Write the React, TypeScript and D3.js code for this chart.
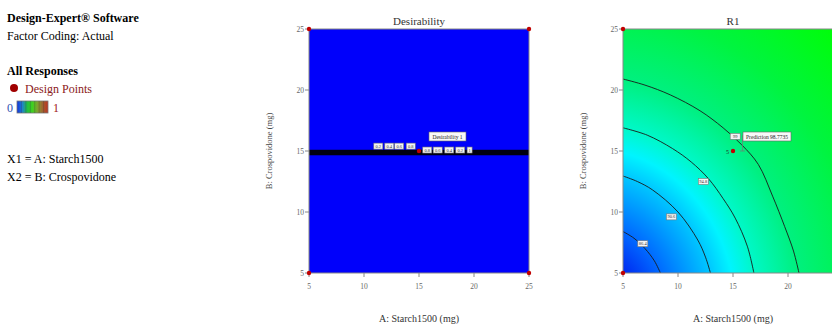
import React from "react";
import * as d3 from "d3";

// ---- data ----
const axisTicks = [5, 10, 15, 20, 25];
const designPoints: [number, number][] = [[5, 5], [5, 25], [25, 5], [25, 25], [15, 15]];
const centerReplicates = "5";

// Desirability panel
const desirBand = [14.65, 15.1]; // B range of the dense contour band
const desirLabelsLeft = ["0.2", "0.4", "0.6", "0.8"];
const desirLabelsLeftA = [11.3, 12.3, 13.2, 14.25];
const desirLabelsLeftB = 15.4;
const desirLabelsRight = ["0.8", "0.6", "0.4", "0.2", "1"];
const desirLabelsRightA = [15.75, 16.7, 17.75, 18.75, 19.6];
const desirLabelsRightB = 15.08;
const desirLabel = "Desirability 1";

// R1 panel contours (A, B points)
const contourLevels = ["86.4", "90.6", "94.8", "99"];
const contour1: [number, number][] = [[5, 8.4], [6, 7.85], [7, 7], [7.85, 6], [8.4, 5]];
const contour2: [number, number][] = [[5, 12.95], [6.3, 12.5], [7.7, 11.8], [10, 10], [11.8, 7.7], [12.5, 6.3], [12.95, 5]];
const contour3: [number, number][] = [[5, 16.9], [7.2, 16.3], [9.5, 15.2], [11.2, 14.1], [12.75, 12.75], [14.1, 11.1], [15.2, 9.5], [16.3, 7.2], [16.9, 5]];
const contour4: [number, number][] = [[5, 20.9], [7, 20.4], [9.3, 19.6], [12, 18.3], [14.1, 16.9], [15.8, 15.5], [17.3, 13.9], [18.6, 11.3], [19.7, 8.8], [20.5, 6.8], [21, 5]];
const contours = [contour1, contour2, contour3, contour4];
const contourLabelPos: [number, number][] = [[6.8, 7.4], [9.4, 9.6], [12.3, 12.5], [15.2, 16.2]];
const predictionText = "Prediction 98.7735";

// R1 colour gradient (distance from the low corner -> colour)
const gradRadii = [0, 4.2, 7, 11.4, 13.2, 15.2, 19, 25, 33];
const gradColors = ["#0010f0", "#0028f0", "#0068ff", "#00c8ff", "#00f4ff", "#00f8c8", "#00f080", "#00f440", "#00ff00"];
const gradCenter: [number, number] = [2, 2];

const legendBarColors = ["#1030e0", "#2080d0", "#20c040", "#40d020", "#80a030", "#a06030", "#c03020"];

export default function App() {
  const xL = d3.scaleLinear().domain([5, 25]).range([309, 529]);
  const xR = d3.scaleLinear().domain([5, 25]).range([623, 843]);
  const y = d3.scaleLinear().domain([5, 25]).range([273, 29]);
  const serif = "'Liberation Serif', 'Times New Roman', serif";
  const axisColor = "#888";
  const tickTextColor = "#666";

  const lineR = d3
    .line<[number, number]>()
    .x((d) => xR(d[0]))
    .y((d) => y(d[1]))
    .curve(d3.curveCatmullRom);

  const pxPerUnitX = xR(6) - xR(5);
  const pxPerUnitY = y(5) - y(6);
  const gcx = xR(gradCenter[0]);
  const gcy = y(gradCenter[1]);
  const rMax = gradRadii[gradRadii.length - 1];

  const axes = (x: d3.ScaleLinear<number, number>, xTickVals: number[]) => (
    <g>
      {axisTicks.map((t) => (
        <g key={"y" + t}>
          <line x1={x(5) - 4} x2={x(5)} y1={y(t)} y2={y(t)} stroke={axisColor} strokeWidth={1} />
          <text x={x(5) - 5} y={y(t) + 2.5} fontSize={7.5} textAnchor="end" fill={tickTextColor} fontFamily={serif}>
            {t}
          </text>
        </g>
      ))}
      {xTickVals.map((t) => (
        <g key={"x" + t}>
          <line x1={x(t)} x2={x(t)} y1={y(5)} y2={y(5) + 4} stroke={axisColor} strokeWidth={1} />
          <text x={x(t)} y={y(5) + 16} fontSize={7.5} textAnchor="middle" fill={tickTextColor} fontFamily={serif}>
            {t}
          </text>
        </g>
      ))}
      <rect x={x(5)} y={y(25)} width={x(25) - x(5)} height={y(5) - y(25)} fill="none" stroke={axisColor} strokeWidth={1} />
    </g>
  );

  const labelBox = (cx: number, cy: number, text: string, key: string, w = 9, h = 6, fs = 4.5) => (
    <g key={key}>
      <rect x={cx - w / 2} y={cy - h / 2} width={w} height={h} fill="#f4f4f4" stroke="#777" strokeWidth={0.6} />
      <text x={cx} y={cy + fs * 0.35} fontSize={fs} textAnchor="middle" fill="#333" fontFamily={serif}>
        {text}
      </text>
    </g>
  );

  return (
    <svg width={832} height={324} style={{ position: "absolute", left: 0, top: 0, background: "#fff" }}>
      <defs>
        <radialGradient
          id="r1grad"
          gradientUnits="userSpaceOnUse"
          cx={gcx}
          cy={gcy}
          r={rMax * pxPerUnitX}
          gradientTransform={`translate(${gcx},${gcy}) scale(1,${pxPerUnitY / pxPerUnitX}) translate(${-gcx},${-gcy})`}
        >
          {gradRadii.map((r, i) => (
            <stop key={i} offset={r / rMax} stopColor={gradColors[i]} />
          ))}
        </radialGradient>
        <linearGradient id="legendGrad" x1="0" x2="1" y1="0" y2="0">
          {legendBarColors.map((c, i) => (
            <stop key={i} offset={i / (legendBarColors.length - 1)} stopColor={c} />
          ))}
        </linearGradient>
        <clipPath id="clipR">
          <rect x={xR(5)} y={y(25)} width={xR(25) - xR(5)} height={y(5) - y(25)} />
        </clipPath>
      </defs>

      {/* Left info panel */}
      <g fontFamily={serif} fontSize={12}>
        <text x={7} y={22} fontWeight="bold">Design-Expert® Software</text>
        <text x={7} y={40}>Factor Coding: Actual</text>
        <text x={7} y={75} fontWeight="bold">All Responses</text>
        <circle cx={14} cy={88} r={4} fill="#a00000" />
        <text x={25} y={93} fill="#8b2020">Design Points</text>
        <text x={7} y={112} fill="#3050b0">0</text>
        <rect x={17} y={101} width={31} height={12} fill="url(#legendGrad)" stroke="#777" strokeWidth={0.8} />
        {legendBarColors.slice(1).map((_, i) => (
          <line key={i} x1={17 + ((i + 1) * 31) / legendBarColors.length} x2={17 + ((i + 1) * 31) / legendBarColors.length} y1={101} y2={113} stroke="#333" strokeOpacity={0.35} strokeWidth={0.8} />
        ))}
        <text x={53} y={112} fill="#a02020">1</text>
        <text x={7} y={163}>X1 = A: Starch1500</text>
        <text x={7} y={181}>X2 = B: Crospovidone</text>
      </g>

      {/* Desirability panel */}
      <g>
        <rect x={xL(5)} y={y(25)} width={xL(25) - xL(5)} height={y(5) - y(25)} fill="#0000fb" />
        <rect x={xL(5)} y={y(desirBand[1])} width={xL(25) - xL(5)} height={y(desirBand[0]) - y(desirBand[1])} fill="#000010" />
        {desirLabelsLeft.map((t, i) => labelBox(xL(desirLabelsLeftA[i]), y(desirLabelsLeftB), t, "dl" + i))}
        {desirLabelsRight.map((t, i) =>
          labelBox(xL(desirLabelsRightA[i]), y(desirLabelsRightB), t, "dr" + i, i === desirLabelsRight.length - 1 ? 5 : 9)
        )}
        <g>
          <rect x={429} y={132} width={37} height={9} fill="#f8f8f8" stroke="#666" strokeWidth={0.6} />
          <text x={447.5} y={139} fontSize={5.5} textAnchor="middle" fill="#222" fontFamily={serif}>
            {desirLabel}
          </text>
        </g>
        {axes(xL, axisTicks)}
        {designPoints.map((p, i) => (
          <circle key={i} cx={xL(p[0])} cy={y(p[1])} r={2.2} fill="#c00000" />
        ))}
        <text x={xL(15)} y={y(25) - 4} fontSize={11} textAnchor="middle" fontFamily={serif} fill="#333">
          Desirability
        </text>
        <text x={xL(15)} y={322} fontSize={10} textAnchor="middle" fontFamily={serif} fill="#333">
          A: Starch1500 (mg)
        </text>
        <text transform={`translate(272,${y(15)}) rotate(-90)`} fontSize={8.5} textAnchor="middle" fontFamily={serif} fill="#444">
          B: Crospovidone (mg)
        </text>
      </g>

      {/* R1 panel */}
      <g>
        <rect x={xR(5)} y={y(25)} width={xR(25) - xR(5)} height={y(5) - y(25)} fill="url(#r1grad)" />
        <g clipPath="url(#clipR)">
          {contours.map((c, i) => (
            <path key={i} d={lineR(c) || ""} fill="none" stroke="#1a1a1a" strokeWidth={0.9} />
          ))}
        </g>
        {contourLevels.map((t, i) => labelBox(xR(contourLabelPos[i][0]), y(contourLabelPos[i][1]), t, "cl" + i, 10, 6))}
        <line x1={742.5} x2={742.5} y1={135} y2={y(15)} stroke="#777" strokeWidth={0.7} />
        <line x1={740} x2={745} y1={y(15)} y2={y(15)} stroke="#777" strokeWidth={0.7} />
        <rect x={743} y={132} width={48} height={9} fill="#f8f8f8" stroke="#666" strokeWidth={0.6} />
        <text x={767} y={139} fontSize={5.5} textAnchor="middle" fill="#222" fontFamily={serif}>
          {predictionText}
        </text>
        {axes(xR, axisTicks.filter((t) => t < 25))}
        {designPoints.map((p, i) => (
          <circle key={i} cx={xR(p[0])} cy={y(p[1])} r={2.2} fill="#c00000" />
        ))}
        <text x={xR(15) - 4} y={y(15) + 2.5} fontSize={6} textAnchor="end" fontFamily={serif} fill="#222">
          {centerReplicates}
        </text>
        <text x={xR(15)} y={y(25) - 4} fontSize={11} textAnchor="middle" fontFamily={serif} fill="#333">
          R1
        </text>
        <text x={xR(15)} y={322} fontSize={10} textAnchor="middle" fontFamily={serif} fill="#333">
          A: Starch1500 (mg)
        </text>
        <text transform={`translate(586,${y(15)}) rotate(-90)`} fontSize={8.5} textAnchor="middle" fontFamily={serif} fill="#444">
          B: Crospovidone (mg)
        </text>
      </g>
    </svg>
  );
}
